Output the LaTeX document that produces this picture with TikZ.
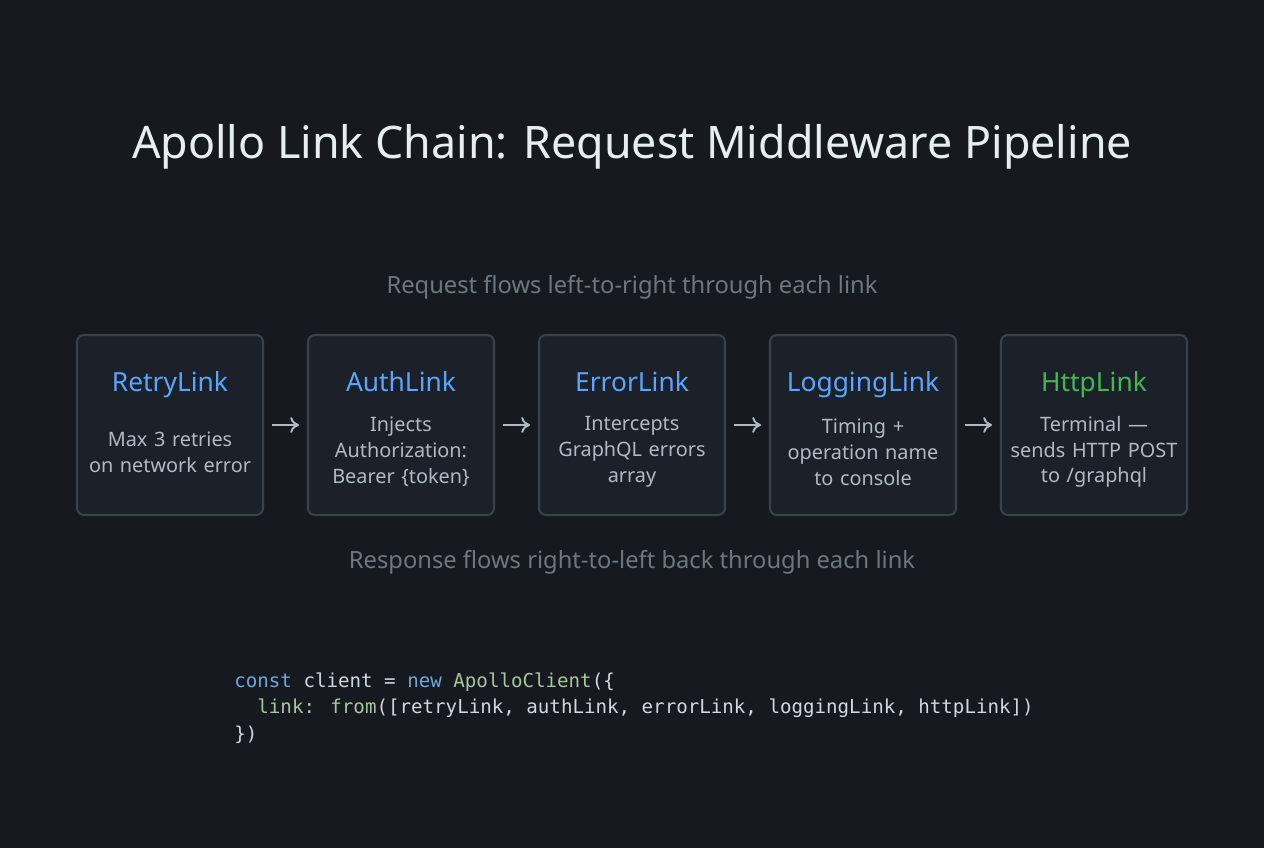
\documentclass[tikz,border=0pt]{standalone}
\usepackage{fontspec}
\setmainfont{Noto Sans}
\newfontfamily\codefont{DejaVu Sans Mono}
\usetikzlibrary{positioning,arrows.meta}
\definecolor{bgDark}{HTML}{161A20}
\definecolor{boxFill}{HTML}{1C2129}
\definecolor{boxLine}{HTML}{3A414B}
\definecolor{titleCol}{HTML}{E6EDF3}
\definecolor{linkBlue}{HTML}{58A6FF}
\definecolor{linkGreen}{HTML}{3FB950}
\definecolor{bodyCol}{HTML}{B1BAC4}
\definecolor{noteCol}{HTML}{6E7681}
\definecolor{kwCol}{HTML}{6FA8DC}
\definecolor{fnCol}{HTML}{A8C6A0}
\definecolor{codeCol}{HTML}{D0D7DE}
\begin{document}
\begin{tikzpicture}[x=0.02cm, y=0.02cm,
rectText/.style={text=bodyCol, font=\fontsize{11.3}{14.7}\selectfont, align=center, text width=110pt},
rectHead/.style={font=\fontsize{15}{18}\selectfont, anchor=base},
rectNote/.style={text=noteCol, font=\fontsize{13.5}{16}\selectfont},
arrowNext/.style={-{To[length=5pt,width=9pt]}, draw=bodyCol, line width=1.1pt}]

\fill[bgDark] (0,0) rectangle (1264,848);
\useasboundingbox (0,0) rectangle (1264,848);

\node[text=titleCol, font=\fontsize{25.5}{30}\selectfont] (title) at (632,701) {Apollo Link Chain: Request Middleware Pipeline};
\node[rectNote] (reqNote) at (632,561) {Request flows left-to-right through each link};
\node[rectNote] (resNote) at (632,286) {Response flows right-to-left back through each link};

% link boxes
\foreach \name/\x/\col/\head/\body in {
  retry/170/linkBlue/RetryLink/{Max 3 retries\\on network error},
  auth/401/linkBlue/AuthLink/{Injects\\Authorization:\\Bearer \{token\}},
  error/632/linkBlue/ErrorLink/{Intercepts\\GraphQL errors\\array},
  logging/863/linkBlue/LoggingLink/{Timing +\\operation name\\to console},
  http/1094/linkGreen/HttpLink/{Terminal ---\\sends HTTP POST\\to /graphql}}
{
  \draw[boxLine, line width=1.2pt, fill=boxFill, rounded corners=4pt] (\x-93,333) rectangle (\x+93,513);
  \node[coordinate] (\name) at (\x,423) {};
  \node[rectHead, text=\col] (\name Head) at (\x,456) {\head};
  \node[rectText, anchor=center] (\name Body) at (\x,396) {\body};
}
\coordinate (retryR) at (272,423);  \coordinate (authL) at (299,423);
\coordinate (authR) at (503,423);   \coordinate (errorL) at (530,423);
\coordinate (errorR) at (734,423);  \coordinate (loggingL) at (761,423);
\coordinate (loggingR) at (965,423);\coordinate (httpL) at (992,423);

\draw[arrowNext] (retryR) -- (authL);
\draw[arrowNext] (authR) -- (errorL);
\draw[arrowNext] (errorR) -- (loggingL);
\draw[arrowNext] (loggingR) -- (httpL);

% code
\node[anchor=north west, font=\codefont\fontsize{10.9}{15.3}\selectfont, text=codeCol, align=left, inner sep=0pt] (code) at (234,176)
{\textcolor{kwCol}{const} client = \textcolor{kwCol}{new} \textcolor{fnCol}{ApolloClient}(\{\\
\ \ \textcolor{fnCol}{link: from}([retryLink, authLink, errorLink, loggingLink, httpLink])\\
\})};
\end{tikzpicture}
\end{document}
